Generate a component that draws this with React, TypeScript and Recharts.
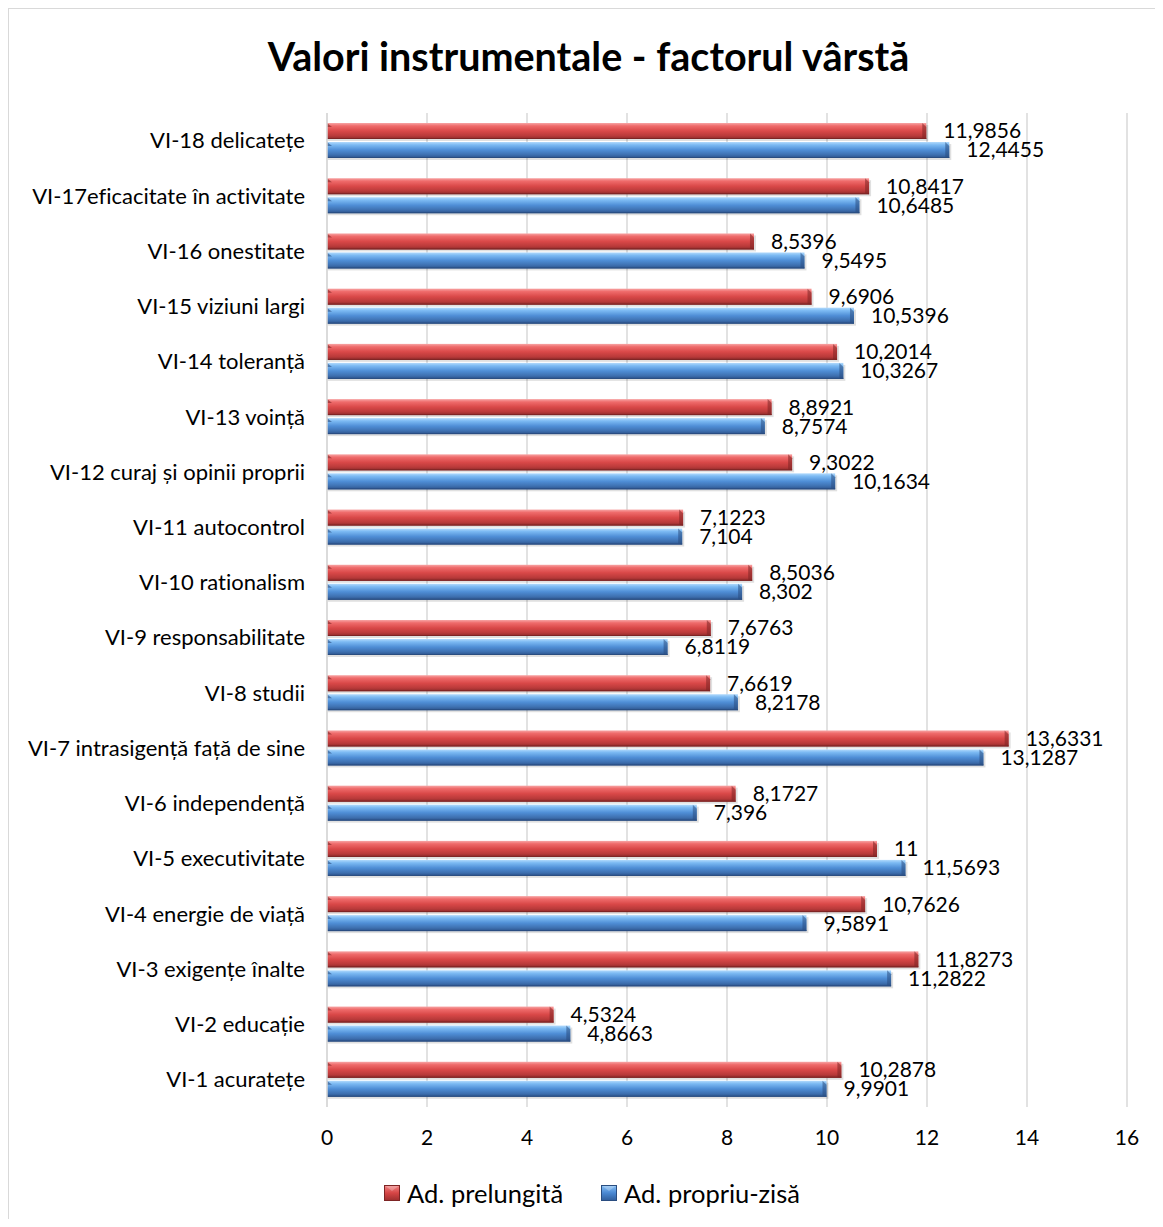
import { Bar, BarChart, CartesianGrid, LabelList, Legend, XAxis, YAxis } from 'recharts'

const categories = [
  'VI-18 delicatețe',
  'VI-17eficacitate în activitate',
  'VI-16 onestitate',
  'VI-15 viziuni largi',
  'VI-14 toleranță',
  'VI-13 voință',
  'VI-12 curaj și opinii proprii',
  'VI-11 autocontrol',
  'VI-10 rationalism',
  'VI-9 responsabilitate',
  'VI-8 studii',
  'VI-7 intrasigență față de sine',
  'VI-6 independență',
  'VI-5 executivitate',
  'VI-4 energie de viață',
  'VI-3 exigențe înalte',
  'VI-2 educație',
  'VI-1 acuratețe',
]

const prelungita = [
  11.9856, 10.8417, 8.5396, 9.6906, 10.2014, 8.8921, 9.3022, 7.1223, 8.5036,
  7.6763, 7.6619, 13.6331, 8.1727, 11, 10.7626, 11.8273, 4.5324, 10.2878,
]

const propriuZisa = [
  12.4455, 10.6485, 9.5495, 10.5396, 10.3267, 8.7574, 10.1634, 7.104, 8.302,
  6.8119, 8.2178, 13.1287, 7.396, 11.5693, 9.5891, 11.2822, 4.8663, 9.9901,
]

const xTicks = [0, 2, 4, 6, 8, 10, 12, 14, 16]

const SERIES = [
  { key: 'prelungita', name: 'Ad. prelungită', grad: 'gradRed', end: '#7d2424' },
  { key: 'propriuZisa', name: 'Ad. propriu-zisă', grad: 'gradBlue', end: '#2a4d80' },
]

const data = categories.map((cat, i) => ({
  cat,
  prelungita: prelungita[i],
  propriuZisa: propriuZisa[i],
}))

const FONT = 'Lato, "Open Sans", sans-serif'
const fmt = (v: any) => String(v).replace('.', ',')

// bevelled bar: gradient body, soft drop shadow, darker slanted end caps
function BevelBar(props: any) {
  const { x, y, width, height, grad, end } = props
  if (!width || width <= 0) return null
  const b = 4
  return (
    <g>
      <rect x={x + 1} y={y + 2} width={width + 1} height={height} fill="#000" opacity={0.12} />
      <rect x={x} y={y} width={width} height={height} fill={`url(#${grad})`} />
      <polygon
        points={`${x + width - b},${y} ${x + width},${y + b} ${x + width},${y + height} ${x + width - b},${y + height - 1}`}
        fill={end}
        opacity={0.55}
      />
      <polygon points={`${x},${y} ${x + b + 1},${y + b} ${x},${y + b}`} fill={end} opacity={0.6} />
      <line x1={x} y1={y + height - 0.5} x2={x + width} y2={y + height - 0.5} stroke={end} strokeWidth={1} />
    </g>
  )
}

function Swatch({ grad, end }: { grad: string; end: string }) {
  return (
    <svg width={16} height={16} style={{ display: 'block' }}>
      <rect x={0} y={0} width={16} height={16} fill={`url(#${grad})`} />
      <polygon points="0,0 16,0 8,6" fill="#fff" opacity={0.25} />
      <rect x={0.5} y={0.5} width={15} height={15} fill="none" stroke={end} strokeWidth={1} />
    </svg>
  )
}

function LegendBox() {
  return (
    <div style={{ display: 'flex', justifyContent: 'center', alignItems: 'center', gap: 38, height: 30, paddingLeft: 48 }}>
      {SERIES.map((s) => (
        <div key={s.key} style={{ display: 'flex', alignItems: 'center', gap: 7 }}>
          <Swatch grad={s.grad + 'L'} end={s.end} />
          <span style={{ fontFamily: FONT, fontSize: 25.5, color: '#000' }}>{s.name}</span>
        </div>
      ))}
    </div>
  )
}

function Gradients() {
  return (
    <svg width={0} height={0} style={{ position: 'absolute' }}>
      <defs>
        <linearGradient id="gradRedL" x1="0" y1="0" x2="0" y2="1">
          <stop offset="0%" stopColor="#f28a8a" />
          <stop offset="50%" stopColor="#d64545" />
          <stop offset="100%" stopColor="#9a2d2d" />
        </linearGradient>
        <linearGradient id="gradBlueL" x1="0" y1="0" x2="0" y2="1">
          <stop offset="0%" stopColor="#8cc4f6" />
          <stop offset="50%" stopColor="#4a88d2" />
          <stop offset="100%" stopColor="#2f5b98" />
        </linearGradient>
      </defs>
    </svg>
  )
}

export default function App() {
  return (
    <div style={{ width: 1147, height: 1211, overflow: 'hidden', position: 'relative', fontVariantLigatures: 'none' }}>
      <Gradients />
      <div
        style={{
          position: 'absolute', left: 0, top: 0, width: 1170, height: 1240,
          border: '1px solid #d9d9d9', boxSizing: 'border-box', background: '#fff',
        }}
      >
        <div
          style={{
            position: 'absolute', left: 0, top: 24, width: 1159, textAlign: 'center',
            fontFamily: FONT, fontWeight: 700, fontSize: 39.5, color: '#000', lineHeight: '46px',
          }}
        >
          Valori instrumentale - factorul vârstă
        </div>
        <BarChart
          width={1146}
          height={1210}
          data={data}
          layout="vertical"
          margin={{ top: 104, right: 28, bottom: 11, left: 0 }}
          barSize={16}
          barGap={3}
        >
          <defs>
            <linearGradient id="gradRed" x1="0" y1="0" x2="0" y2="1">
              <stop offset="0%" stopColor="#f7a5a5" />
              <stop offset="18%" stopColor="#ef6b6b" />
              <stop offset="50%" stopColor="#d94848" />
              <stop offset="80%" stopColor="#b93a3a" />
              <stop offset="100%" stopColor="#8c2a2a" />
            </linearGradient>
            <linearGradient id="gradBlue" x1="0" y1="0" x2="0" y2="1">
              <stop offset="0%" stopColor="#b2dafc" />
              <stop offset="18%" stopColor="#7cbaf3" />
              <stop offset="50%" stopColor="#4f8ed6" />
              <stop offset="80%" stopColor="#3e70b0" />
              <stop offset="100%" stopColor="#2c528a" />
            </linearGradient>
          </defs>
          <CartesianGrid horizontal={false} stroke="#d9d9d9" strokeWidth={1.5} />
          <XAxis
            type="number"
            domain={[0, 16]}
            ticks={xTicks}
            axisLine={false}
            tickLine={false}
            tickSize={0}
            tickMargin={23}
            height={71}
            tick={{ fill: '#000', fontSize: 21, fontFamily: FONT }}
          />
          <YAxis
            type="category"
            dataKey="cat"
            width={318}
            axisLine={{ stroke: '#d9d9d9', strokeWidth: 1.5 }}
            tickLine={false}
            tickSize={0}
            tickMargin={22}
            interval={0}
            tick={{ fill: '#000', fontSize: 22, fontFamily: FONT }}
          />
          <Legend verticalAlign="bottom" content={<LegendBox />} />
          {SERIES.map((s) => (
            <Bar
              key={s.key}
              dataKey={s.key}
              name={s.name}
              isAnimationActive={false}
              shape={(p: any) => <BevelBar {...p} grad={s.grad} end={s.end} />}
            >
              <LabelList
                dataKey={s.key}
                position="right"
                offset={17}
                formatter={fmt}
                style={{ fill: '#000', fontSize: 21, fontFamily: FONT }}
              />
            </Bar>
          ))}
        </BarChart>
      </div>
    </div>
  )
}
